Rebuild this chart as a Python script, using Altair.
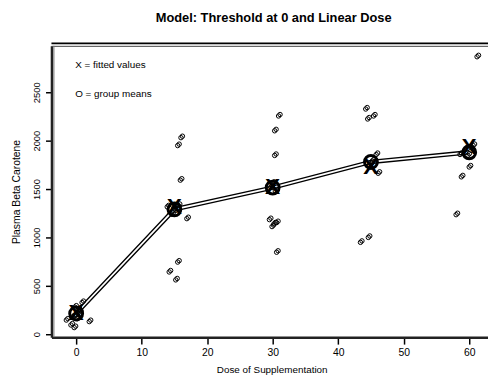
import altair as alt
import pandas as pd

FONT = "Liberation Sans"

# ---- data ----
doses = [0, 15, 30, 45, 60]
group_means = [214, 1290, 1515, 1780, 1880]
fitted_values = [222, 1312, 1522, 1722, 1936]

obs_dose = [
    0.9, -1.5, -0.8, -0.3, 2.0, 0.0, 0.3, -0.5, 0.5, 0.2, -0.2,
    16.0, 15.5, 15.9, 14.9, 13.9, 16.9, 15.5, 14.2, 15.2, 15.2, 14.6, 15.6,
    30.9, 30.3, 30.3, 29.5, 29.9, 30.6, 30.2, 30.6, 29.7, 30.4, 30.0,
    44.2, 44.5, 45.4, 45.8, 46.1, 43.4, 44.6, 44.8, 45.2,
    61.2, 60.0, 58.8, 58.0, 58.6, 60.3, 59.8, 60.6,
]
obs_carotene = [
    327, 146, 95, 68, 130, 200, 250, 180, 230, 160, 280,
    2031, 1949, 1592, 1306, 1316, 1194, 745, 643, 561, 1280, 1240, 1330,
    2255, 2102, 1847, 1184, 1112, 1153, 1140, 847, 1520, 1480, 1560,
    2327, 2224, 2255, 1857, 1663, 949, 1000, 1750, 1790,
    2867, 1728, 1626, 1235, 1857, 1900, 1850, 1950,
]

x_ticks = [0, 10, 20, 30, 40, 50, 60]
y_ticks = [0, 500, 1000, 1500, 2000, 2500]

title_text = "Model: Threshold at 0 and Linear Dose"
legend_lines = ["X = fitted values", "O = group means"]

W, H = 442, 295

obs = pd.DataFrame({"dose": obs_dose, "carotene": obs_carotene})
means = pd.DataFrame({"dose": doses, "carotene": group_means})
fits = pd.DataFrame({"dose": doses, "carotene": fitted_values})

xs = alt.Scale(domain=[-3.77, 62.87], nice=False, zero=False)
ys = alt.Scale(domain=[-31, 2980], nice=False, zero=False)

x_axis = alt.Axis(
    values=x_ticks, title="Dose of Supplementation", grid=False, format="d",
    tickSize=7, tickColor="black", tickWidth=1.5,
    domainColor="#222", domainWidth=2.5,
    labelFont=FONT, labelFontSize=10.5, labelColor="black", labelPadding=4,
    labelFlush=False,
    titleFont=FONT, titleFontSize=10, titleFontWeight="normal", titleColor="black",
    titleX=W / 2 + 2, titleY=33, titleBaseline="middle",
)
y_axis = alt.Axis(
    values=y_ticks, title="Plasma Beta Carotene", grid=False, format="d",
    tickSize=6, tickColor="black", tickWidth=1.5,
    domainColor="#222", domainWidth=2.5,
    labelFont=FONT, labelFontSize=9.5, labelColor="black", labelPadding=4,
    labelAngle=-90, labelAlign="center", labelBaseline="bottom", labelFlush=False,
    titleFont=FONT, titleFontSize=10.5, titleFontWeight="normal", titleColor="black",
    titleAngle=-90, titleX=-35, titleY=H / 2, titleBaseline="middle",
)

enc_x = alt.X("dose:Q", scale=xs, axis=x_axis)
enc_y = alt.Y("carotene:Q", scale=ys, axis=y_axis)

line_outer = alt.Chart(means).mark_line(color="black", strokeWidth=4.5).encode(x=enc_x, y=enc_y)
line_inner = alt.Chart(means).mark_line(color="white", strokeWidth=1.8).encode(x="dose:Q", y="carotene:Q")

pts1 = alt.Chart(obs).mark_point(shape="circle", size=20, filled=False, color="black",
                                 strokeWidth=1, opacity=1).encode(x="dose:Q", y="carotene:Q")
pts2 = alt.Chart(obs).mark_point(shape="circle", size=20, filled=False, color="black",
                                 strokeWidth=1, opacity=1, xOffset=1.5, yOffset=-1.5
                                 ).encode(x="dose:Q", y="carotene:Q")

mean_pts = alt.Chart(means).mark_point(shape="circle", size=170, filled=False, color="black",
                                       strokeWidth=3, opacity=1).encode(x="dose:Q", y="carotene:Q")
fit_pts = alt.Chart(fits).mark_text(text="X", font=FONT, fontSize=23, fontWeight="bold",
                                    color="black", baseline="middle", align="center"
                                    ).encode(x="dose:Q", y="carotene:Q")

top1 = alt.Chart(pd.DataFrame({"a": [0]})).mark_rule(color="black", strokeWidth=2).encode(
    x=alt.value(0), x2=alt.value(W), y=alt.value(-2.5))
top2 = alt.Chart(pd.DataFrame({"a": [0]})).mark_rule(color="#444", strokeWidth=1).encode(
    x=alt.value(0), x2=alt.value(W), y=alt.value(0.5))
left2 = alt.Chart(pd.DataFrame({"a": [0]})).mark_rule(color="#777", strokeWidth=1).encode(
    x=alt.value(2.5), y=alt.value(0), y2=alt.value(H))

title = alt.Chart(pd.DataFrame({"t": [title_text]})).mark_text(
    font=FONT, fontSize=13, fontWeight="bold", color="black", align="center", baseline="middle"
).encode(text="t:N", x=alt.value(W / 2 + 4), y=alt.value(-28))

legend1 = alt.Chart(pd.DataFrame({"t": [legend_lines[0]]})).mark_text(
    font=FONT, fontSize=10, color="black", align="left", baseline="middle"
).encode(text="t:N", x=alt.value(24), y=alt.value(19))
legend2 = alt.Chart(pd.DataFrame({"t": [legend_lines[1]]})).mark_text(
    font=FONT, fontSize=10, color="black", align="left", baseline="middle"
).encode(text="t:N", x=alt.value(24), y=alt.value(49))

chart = alt.layer(
    line_outer, line_inner, pts1, pts2, mean_pts, fit_pts,
    top1, top2, left2, title, legend1, legend2,
).properties(
    width=W, height=H,
    autosize=alt.AutoSizeParams(type="none"),
    padding={"left": 44, "top": 36, "right": 0, "bottom": 39},
    background="white",
).configure_view(stroke=None)

chart.save("out.html", embed_options={"renderer": "svg", "actions": False})
